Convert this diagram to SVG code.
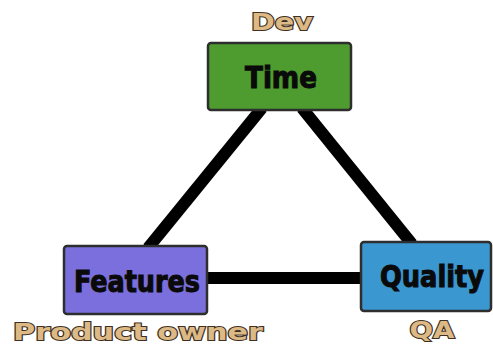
<svg xmlns="http://www.w3.org/2000/svg" width="493" height="345" viewBox="0 0 493 345">
<style>
.box{stroke:#2e2e2e;stroke-width:2.5}
.t{font-family:"DejaVu Sans Condensed","Liberation Sans Narrow",sans-serif;font-weight:bold;fill:#0a0a0a;stroke:#0a0a0a;stroke-width:1;text-anchor:middle}
.lbl{font-family:"DejaVu Sans","Liberation Sans",sans-serif;font-weight:bold;fill:#ddb985;stroke:#3e3024;stroke-width:2;paint-order:stroke;text-anchor:middle}
.c{stroke:#000;stroke-width:12;fill:none}
</style>
<rect width="493" height="345" fill="#fff"/>
<g id="connectors">
<line class="c" x1="262" y1="108" x2="148" y2="248"/>
<line class="c" x1="302" y1="108" x2="412" y2="244"/>
<line class="c" x1="205" y1="278" x2="362" y2="278"/>
</g>
<g id="time">
<rect class="box" x="208" y="43" width="143" height="67" rx="3" fill="#4e9c2f"/>
<text class="t" x="281" y="88" font-size="30" textLength="72" lengthAdjust="spacingAndGlyphs">Time</text>
</g>
<g id="features">
<rect class="box" x="64" y="246" width="143" height="68" rx="3" fill="#7a6fdc"/>
<text class="t" x="137" y="292" font-size="30" textLength="126" lengthAdjust="spacingAndGlyphs">Features</text>
</g>
<g id="quality">
<rect class="box" x="361" y="242" width="130" height="69" rx="3" fill="#3a97cf"/>
<text class="t" x="432" y="287" font-size="30" textLength="104" lengthAdjust="spacingAndGlyphs">Quality</text>
</g>
<g id="labels">
<text class="lbl" x="282" y="30" font-size="23" textLength="62" lengthAdjust="spacingAndGlyphs">Dev</text>
<text class="lbl" x="138" y="340" font-size="23" textLength="250" lengthAdjust="spacingAndGlyphs">Product owner</text>
<text class="lbl" x="432" y="338" font-size="23" textLength="45" lengthAdjust="spacingAndGlyphs">QA</text>
</g>
</svg>
